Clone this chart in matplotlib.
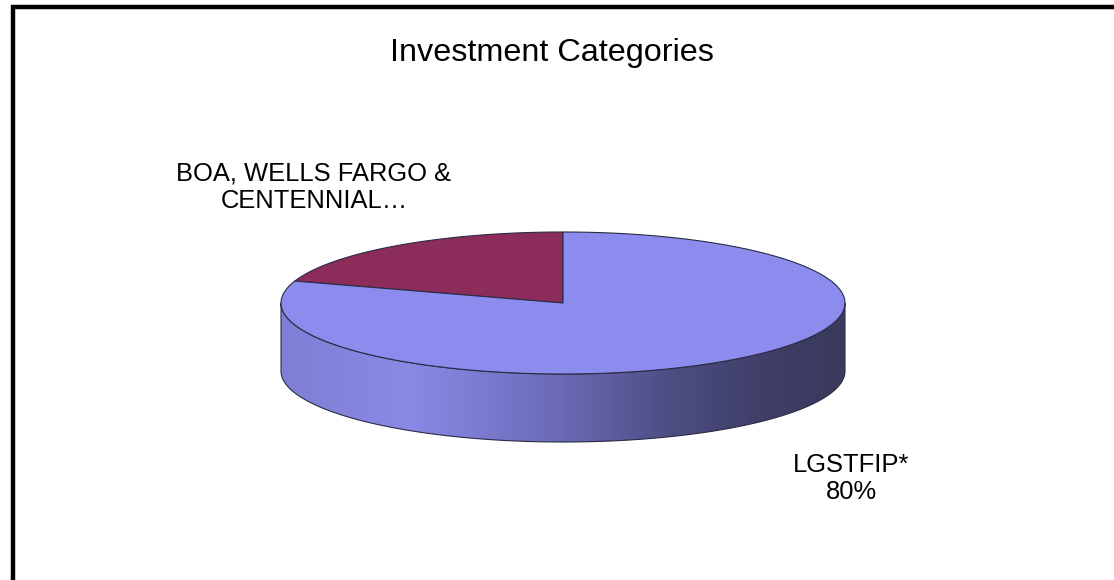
import numpy as np
import matplotlib
matplotlib.use("Agg")
import matplotlib.pyplot as plt
from matplotlib.patches import Polygon, Rectangle
from matplotlib.colors import LinearSegmentedColormap

plt.rcParams['font.family'] = ['Liberation Sans', 'DejaVu Sans']

# chart data
title = "Investment Categories"
labels = ["BOA, WELLS FARGO &\nCENTENNIAL\u2026", "LGSTFIP*"]
values = [20, 80]
show_pct = [False, True]
colors = ["#8B2C5A", "#8C8CEF"]

# 3d pie geometry in pixel space
W, H = 1114, 580
cx, cy = 563, 303
a, b = 282, 71
depth = 68
edge = "#2b2b45"

fig = plt.figure(figsize=(W / 100, H / 100), dpi=100)
ax = fig.add_axes([0, 0, 1, 1])
ax.set_xlim(0, W)
ax.set_ylim(H, 0)
ax.axis('off')


def ell(t):
    t = np.radians(t)
    return cx + a * np.cos(t), cy - b * np.sin(t)


# slice angles (parametric), starting at 12 o'clock going counter-clockwise
fracs = np.array(values) / np.sum(values)
starts = 90 + 360 * np.concatenate([[0], np.cumsum(fracs)[:-1]])
ends = 90 + 360 * np.cumsum(fracs)

side_cmap = LinearSegmentedColormap.from_list(
    "side", [(0.0, "#7e7ed4"), (0.22, "#8a8ae6"), (0.45, "#7070c0"),
             (0.7, "#4d4d82"), (0.85, "#3f3f68"), (1.0, "#3a3a5e")])

# front side wall (visible where angle is between 180 and 360)
for s, e, c in zip(starts, ends, colors):
    for off in (0, 360, -360):
        lo, hi = max(s + off, 180), min(e + off, 360)
        if hi <= lo:
            continue
        t = np.linspace(lo, hi, 200)
        xt, yt = ell(t)
        xs = np.concatenate([xt, xt[::-1]])
        ys = np.concatenate([yt, yt[::-1] + depth])
        poly = Polygon(np.column_stack([xs, ys]), closed=True,
                       facecolor='none', edgecolor=edge, lw=0.8, zorder=3)
        ax.add_patch(poly)
        grad = np.linspace(0, 1, 400).reshape(1, -1)
        im = ax.imshow(grad, cmap=side_cmap, aspect='auto',
                       extent=(cx - a, cx + a, cy + b + depth, cy), zorder=2)
        im.set_clip_path(poly)

# top faces
for s, e, c in zip(starts, ends, colors):
    t = np.linspace(s, e, 300)
    xt, yt = ell(t)
    pts = np.column_stack([np.r_[cx, xt], np.r_[cy, yt]])
    ax.add_patch(Polygon(pts, closed=True, facecolor=c, edgecolor=edge,
                         lw=0.8, zorder=4))

ax.set_xlim(0, W)
ax.set_ylim(H, 0)

# labels
label_pos = [(314, 162), (851, 453)]
for lab, v, sp, (lx, ly) in zip(labels, values, show_pct, label_pos):
    txt = lab + (f"\n{v}%" if sp else "")
    ax.text(lx, ly, txt, ha='center', va='top', fontsize=18.4,
            linespacing=1.18, color='black', zorder=5)

ax.text(552, 61, title, ha='center', va='baseline', fontsize=23.3, color='black')

# chart frame (right and bottom run off the image)
fig.patches.append(Rectangle((13 / W, -0.05), 1.1, (H - 7) / H + 0.05,
                             transform=fig.transFigure, fill=False,
                             edgecolor='black', lw=3.2))

fig.savefig("out.png", dpi=100)
